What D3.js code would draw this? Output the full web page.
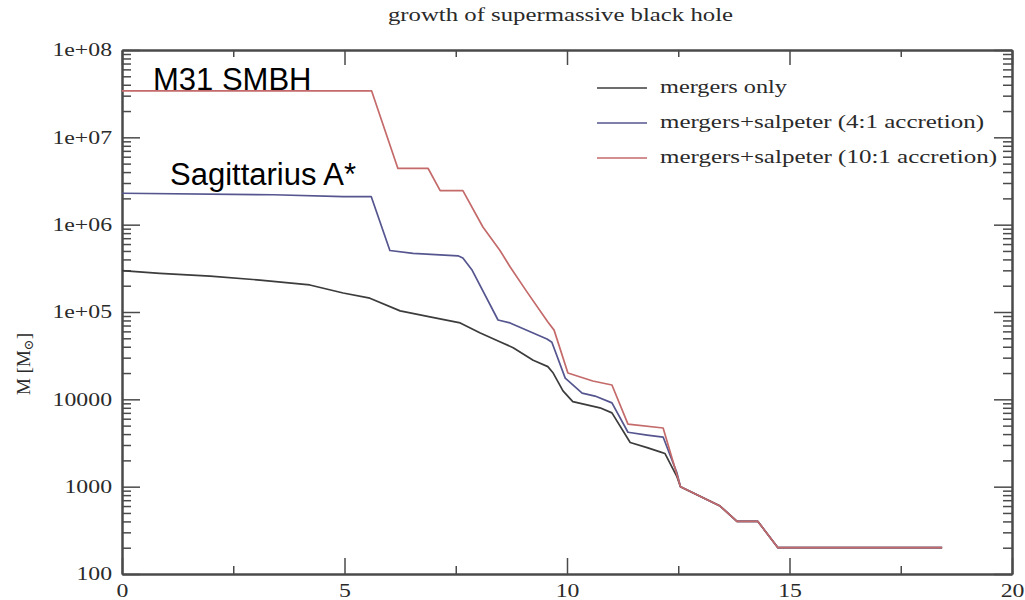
<!DOCTYPE html>
<html>
<head>
<meta charset="utf-8">
<script src="https://cdn.jsdelivr.net/npm/d3@7"></script>
<style>
  html, body { margin: 0; padding: 0; background: #fff; }
  svg { display: block; }
  .serif { font-family: "Liberation Serif", "DejaVu Serif", serif; font-size: 18px; fill: #2a2a2a; }
</style>
</head>
<body>
<svg id="chart" width="1025" height="600"></svg>
<script>
// ---------- data ----------
const title = "growth of supermassive black hole";
const yAxisLabel = "M [M";
const yAxisLabelSub = "\u2299";
const xTickValues = [0, 5, 10, 15, 20];
const xMinorTickValues = [2.5, 7.5, 12.5, 17.5];
const yTickValues = [1e2, 1e3, 1e4, 1e5, 1e6, 1e7, 1e8];
const yTickLabels = ["100", "1000", "10000", "1e+05", "1e+06", "1e+07", "1e+08"];
const seriesNames = ["mergers only", "mergers+salpeter (4:1 accretion)", "mergers+salpeter (10:1 accretion)"];
const seriesColors = ["#3c3c3c", "#55558f", "#c46a6a"];
const annotations = ["M31 SMBH", "Sagittarius A*"];

const xMergers = [0, 0.85, 1.98, 3.1, 4.22, 4.97, 5.57, 6.25, 6.92, 7.6, 8.04, 8.49, 8.79, 9.24, 9.57, 9.69, 9.91, 10.13, 10.74, 11.01, 11.42, 11.8, 12.09, 12.2, 12.47, 12.55, 13.44, 13.82, 14.29, 14.74, 18.43];
const yMergers = [2.97e5, 2.77e5, 2.58e5, 2.32e5, 2.04e5, 1.65e5, 1.44e5, 1.03e5, 8.8e4, 7.5e4, 5.8e4, 4.57e4, 3.9e4, 2.8e4, 2.37e4, 2.0e4, 1.25e4, 9.4e3, 8.0e3, 7.0e3, 3.2e3, 2.8e3, 2.5e3, 2.4e3, 1.3e3, 1.0e3, 600, 400, 400, 200, 200];

const xSalpeter4 = [0, 3.4, 4.97, 5.6, 6.02, 6.54, 7.55, 7.66, 7.87, 8.45, 8.72, 9.55, 9.66, 9.96, 10.34, 10.63, 11.01, 11.37, 11.8, 12.16, 12.47, 12.55, 13.44, 13.82, 14.29, 14.74, 18.43];
const ySalpeter4 = [2.29e6, 2.2e6, 2.1e6, 2.1e6, 5.06e5, 4.7e5, 4.4e5, 4.15e5, 3.0e5, 8.1e4, 7.5e4, 4.9e4, 4.5e4, 1.75e4, 1.18e4, 1.09e4, 9.1e3, 4.2e3, 3.9e3, 3.7e3, 1.44e3, 1.0e3, 600, 400, 400, 200, 200];

const xSalpeter10 = [0, 5.61, 6.2, 6.88, 7.15, 7.66, 8.11, 8.49, 8.72, 9.1, 9.57, 9.71, 10.02, 10.58, 11.01, 11.37, 12.16, 12.55, 13.44, 13.82, 14.29, 14.74, 18.43];
const ySalpeter10 = [3.4e7, 3.4e7, 4.4e6, 4.4e6, 2.45e6, 2.45e6, 9.4e5, 5.1e5, 3.3e5, 1.7e5, 7.7e4, 6.2e4, 2.0e4, 1.62e4, 1.46e4, 5.2e3, 4.7e3, 1.0e3, 600, 400, 400, 200, 200];

// ---------- layout ----------
const svg = d3.select("#chart");
const L = 122, R = 1012, T = 50, B = 574;
const STRETCH = 1.32;

const x = d3.scaleLinear().domain([0, 20]).range([L, R]);
const y = d3.scaleLog().domain([1e2, 1e8]).range([B, T]);

const yMinor = [];
for (let e = 2; e < 8; e++) for (let m = 2; m <= 9; m++) yMinor.push(m * Math.pow(10, e));

function styleAxis(g) {
  g.selectAll(".domain").attr("stroke", "#4a4a4a").attr("stroke-width", 2);
  g.selectAll(".tick line").attr("stroke", "#4a4a4a").attr("stroke-width", 1.5);
  g.selectAll(".tick text").attr("class", "serif stretch");
}

// minor ticks
svg.append("g").attr("transform", `translate(${L},0)`)
  .call(d3.axisLeft(y).tickValues(yMinor).tickSize(-9).tickSizeOuter(0).tickFormat(""))
  .call(styleAxis);
svg.append("g").attr("transform", `translate(${R},0)`)
  .call(d3.axisRight(y).tickValues(yMinor).tickSize(-9).tickSizeOuter(0).tickFormat(""))
  .call(styleAxis);
svg.append("g").attr("transform", `translate(0,${B})`)
  .call(d3.axisBottom(x).tickValues(xMinorTickValues).tickSize(-8).tickSizeOuter(0).tickFormat(""))
  .call(styleAxis);
svg.append("g").attr("transform", `translate(0,${T})`)
  .call(d3.axisTop(x).tickValues(xMinorTickValues).tickSize(-7).tickSizeOuter(0).tickFormat(""))
  .call(styleAxis);

// major ticks + labels
svg.append("g").attr("transform", `translate(${L},0)`)
  .call(d3.axisLeft(y).tickValues(yTickValues).tickSize(-18).tickSizeOuter(0).tickPadding(10)
    .tickFormat((d, i) => yTickLabels[i]))
  .call(styleAxis);
svg.append("g").attr("transform", `translate(${R},0)`)
  .call(d3.axisRight(y).tickValues(yTickValues).tickSize(-18).tickSizeOuter(0).tickFormat(""))
  .call(styleAxis);
svg.append("g").attr("transform", `translate(0,${B})`)
  .call(d3.axisBottom(x).tickValues(xTickValues).tickSize(-16).tickSizeOuter(0).tickPadding(10)
    .tickFormat(d3.format("d")))
  .call(styleAxis);
svg.append("g").attr("transform", `translate(0,${T})`)
  .call(d3.axisTop(x).tickValues(xTickValues).tickSize(-15).tickSizeOuter(0).tickFormat(""))
  .call(styleAxis);

svg.selectAll(".tick text").attr("fill", null);

// ---------- lines ----------
const line = d3.line().x(d => x(d[0])).y(d => y(d[1]));
const series = [
  d3.zip(xMergers, yMergers),
  d3.zip(xSalpeter4, ySalpeter4),
  d3.zip(xSalpeter10, ySalpeter10)
];
svg.append("g").selectAll("path").data(series).join("path")
  .attr("d", line)
  .attr("fill", "none")
  .attr("stroke", (d, i) => seriesColors[i])
  .attr("stroke-width", 1.7)
  .attr("stroke-linejoin", "round");

// ---------- title ----------
svg.append("text").attr("class", "serif fixed")
  .attr("x", 388).attr("y", 21)
  .attr("data-w", 345)
  .text(title);

// ---------- y label ----------
const yl = svg.append("text").attr("class", "serif")
  .attr("transform", "translate(30,364) rotate(-90)")
  .attr("text-anchor", "middle")
  .style("font-size", "19px");
yl.append("tspan").text(yAxisLabel);
yl.append("tspan").attr("dy", 3).style("font-size", "13px").text(yAxisLabelSub);
yl.append("tspan").attr("dy", -3).text("]");

// ---------- legend ----------
const legendRows = [88, 123, 158];
const legendWidths = [127, 324, 337];
const lg = svg.append("g");
seriesNames.forEach((name, i) => {
  lg.append("line")
    .attr("x1", 597).attr("x2", 647)
    .attr("y1", legendRows[i]).attr("y2", legendRows[i])
    .attr("stroke", seriesColors[i]).attr("stroke-width", 1.7);
  lg.append("text").attr("class", "serif fixed")
    .attr("x", 660).attr("y", legendRows[i] + 5)
    .attr("data-w", legendWidths[i])
    .text(name);
});

// ---------- annotations ----------
svg.append("text").attr("x", 153).attr("y", 90)
  .style("font-family", "'Liberation Sans', Arial, sans-serif").style("font-size", "31px").attr("fill", "#000")
  .text(annotations[0]);
svg.append("text").attr("x", 170).attr("y", 185)
  .style("font-family", "'Liberation Sans', Arial, sans-serif").style("font-size", "31px").attr("fill", "#000")
  .text(annotations[1]);

// ---------- horizontal stretch of the serif texts (the original is stretched) ----------
svg.selectAll("text.stretch").each(function () {
  const w = this.getComputedTextLength();
  if (w > 0) d3.select(this).attr("textLength", w * STRETCH).attr("lengthAdjust", "spacingAndGlyphs");
});
svg.selectAll("text.fixed").each(function () {
  d3.select(this).attr("textLength", +this.getAttribute("data-w")).attr("lengthAdjust", "spacingAndGlyphs");
});
</script>
</body>
</html>
